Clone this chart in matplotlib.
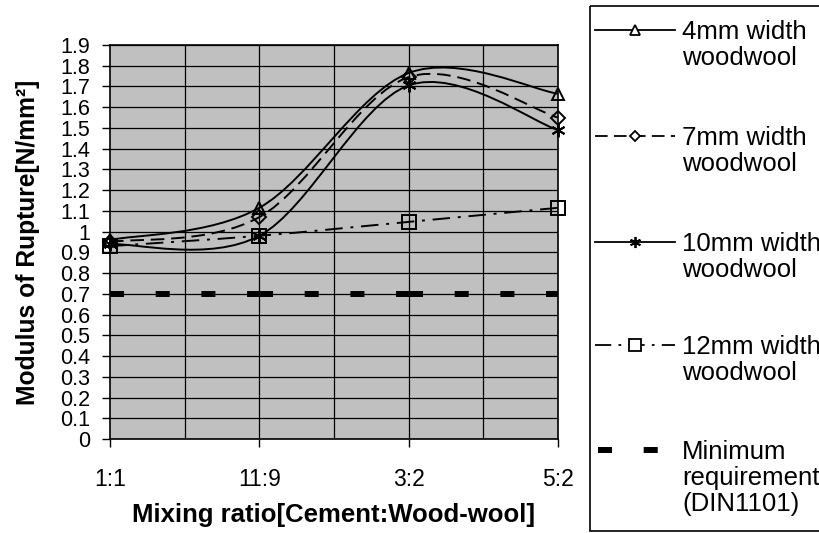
import numpy as np
import matplotlib
matplotlib.use("Agg")
import matplotlib.pyplot as plt
from matplotlib.path import Path
from matplotlib.patches import PathPatch, Rectangle
from matplotlib.lines import Line2D
from matplotlib.ticker import FormatStrFormatter

plt.rcParams['font.family'] = ['Liberation Sans', 'DejaVu Sans']

# 資料
ratios = ["1:1", "11:9", "3:2", "5:2"]
mor_4mm = [0.96, 1.115, 1.765, 1.665]
mor_7mm = [0.95, 1.07, 1.745, 1.55]
mor_10mm = [0.94, 0.98, 1.705, 1.49]
mor_12mm = [0.93, 0.98, 1.047, 1.115]
din_min = [0.7, 0.7, 0.7, 0.7]

labels = ["4mm width\nwoodwool", "7mm width\nwoodwool", "10mm width\nwoodwool",
          "12mm width\nwoodwool", "Minimum\nrequirement\n(DIN1101)"]

# 線型
styles = [
    dict(dashes=None, marker="^", ms=9),
    dict(dashes=(7, 3.5), marker="D", ms=7),
    dict(dashes=None, marker=(6, 2, 0), ms=10),
    dict(dashes=(9, 4, 1.5, 4), marker="s", ms=10),
]
din_dash = (2.35, 5.3)


def smooth_path(xs, ys):
    # Excel 式平滑線 (Bezier)
    pts = np.column_stack([xs, ys]).astype(float)
    n = len(pts)
    verts = [pts[0]]
    codes = [Path.MOVETO]
    for i in range(n - 1):
        p0 = pts[i - 1] if i > 0 else pts[i]
        p1, p2 = pts[i], pts[i + 1]
        p3 = pts[i + 2] if i + 2 < n else pts[i + 1]
        verts += [p1 + (p2 - p0) / 6, p2 - (p3 - p1) / 6, p2]
        codes += [Path.CURVE4] * 3
    return Path(verts, codes)


fig = plt.figure(figsize=(8.2, 5.33), dpi=100)
# 像素位置: 左 110, 右 558, 上 45, 下 439
ax = fig.add_axes([110 / 820, 1 - 439 / 533, 448 / 820, 394 / 533])
ax.set_facecolor("#c0c0c0")

x = np.arange(len(ratios))
series = [mor_4mm, mor_7mm, mor_10mm, mor_12mm]
for vals, st in zip(series, styles):
    patch = PathPatch(smooth_path(x, vals), fill=False, edgecolor="black", lw=1.4, zorder=3)
    if st["dashes"] is not None:
        patch.set_linestyle((0, st["dashes"]))
    ax.add_patch(patch)
    ax.plot(x, vals, ls="none", marker=st["marker"], ms=st["ms"], mfc="none",
            mec="black", mew=1.4, clip_on=False, zorder=4)

# Excel 每段重新開始虛線
for i in range(len(x) - 1):
    ax.plot(x[i:i + 2], din_min[i:i + 2], color="black", lw=4.3, dashes=din_dash,
            dash_capstyle="butt", zorder=3)

ax.set_xlim(0, 3)
ax.set_ylim(0, 1.9)
ax.set_xticks(x)
ax.set_xticklabels(ratios, fontsize=16.5)
ax.set_yticks(np.arange(0, 1.95, 0.1))
ax.yaxis.set_major_formatter(FormatStrFormatter("%g"))
for xv in np.arange(0.5, 3, 0.5):
    ax.axvline(xv, color="black", lw=0.9, zorder=1)
ax.grid(True, which="major", axis="y", color="black", lw=0.9, zorder=1)
ax.set_axisbelow(True)
ax.tick_params(axis="both", length=6, width=1, direction="out")
ax.tick_params(axis="y", labelsize=15.5, pad=8)
ax.tick_params(axis="x", labelsize=16.5, pad=15)
for s in ax.spines.values():
    s.set_linewidth(1.2)

ax.set_xlabel("Mixing ratio[Cement:Wood-wool]", fontsize=18.5, fontweight="bold", va="center")
ax.xaxis.set_label_coords(0.5, (439 - 515) / 394)
ax.set_ylabel("Modulus of Rupture[N/mm²]", fontsize=17.7, fontweight="bold", va="center")
ax.yaxis.set_label_coords((28 - 110) / 448, 0.5)

# 圖例 (像素座標)
lg = fig.add_axes([0, 0, 1, 1])
lg.set_xlim(0, 820)
lg.set_ylim(533, 0)
lg.axis("off")
lg.add_patch(Rectangle((590, 6), 260, 525, fill=False, edgecolor="black", lw=1.2, clip_on=False))
rows = [30, 136, 242, 345, 450]
for yy, st, lab in zip(rows[:4], styles, labels[:4]):
    h = Line2D([595, 675], [yy, yy], color="black", lw=1.3)
    if st["dashes"] is not None:
        h.set_linestyle((0, st["dashes"]))
    lg.add_line(h)
    lg.plot([635], [yy], ls="none", marker=st["marker"], ms=st["ms"] * 0.8, mfc="white",
            mec="black", mew=1.3)
    lg.text(682, yy - 10, lab, fontsize=18.5, va="top", linespacing=1.1)
lg.plot([598, 660], [rows[4], rows[4]], color="black", lw=4.3, dashes=din_dash,
        dash_capstyle="butt")
lg.text(682, rows[4] - 10, labels[4], fontsize=18.5, va="top", linespacing=1.1)

fig.savefig("out.png", dpi=100)
